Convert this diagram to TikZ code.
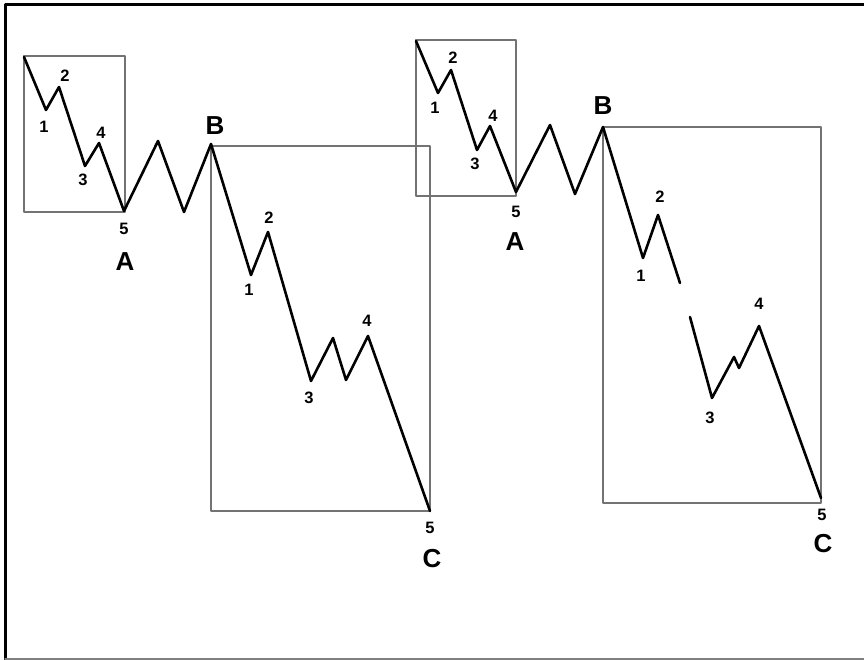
\documentclass[tikz,border=0pt]{standalone}
\usepackage{fontspec}
\setmainfont{Liberation Sans}
\definecolor{boxgray}{gray}{0.45}
\tikzset{
  wave/.style={line width=2.6pt,black},
  cell/.style={line width=1.1pt,boxgray},
  num/.style={font=\fontsize{16.5}{16.5}\selectfont\bfseries,inner sep=0pt},
  big/.style={font=\fontsize{26}{26}\selectfont\bfseries,inner sep=0pt}
}

\begin{document}
\begin{tikzpicture}[line cap=round,line join=round,x=1pt,y=-1pt]
			\useasboundingbox (0,0) rectangle (864,660);
			% frame
			\draw [line width=3.5pt] (5.5,660)-- (5.5,4.5)-- (864,4.5);
			\draw [line width=1.5pt,color=gray] (5,659)-- (864,659);
			% boxes
			\draw [cell] (24,56) rectangle (125,212);
			\draw [cell] (211,146) rectangle (430,511);
			\draw [cell] (416,40) rectangle (516,196);
			\draw [cell] (603,127) rectangle (821,503);
			% first wave
			\coordinate (s0) at (24,57);
			\coordinate (a1) at (46,110);
			\coordinate (a2) at (59,87);
			\coordinate (a3) at (85,166);
			\coordinate (a4) at (99,143);
			\coordinate (A) at (124,211);
			\coordinate (b1) at (158,141);
			\coordinate (b2) at (184,212);
			\coordinate (B) at (211,144);
			\coordinate (c1) at (251,275);
			\coordinate (c2) at (268,232);
			\coordinate (c3) at (311,381);
			\coordinate (c3a) at (333,338);
			\coordinate (c3b) at (346,380);
			\coordinate (c4) at (368,336);
			\coordinate (C) at (430,511);
			\draw [wave] (s0)-- (a1)-- (a2)-- (a3)-- (a4)-- (A)-- (b1)-- (b2)-- (B)-- (c1)-- (c2)-- (c3)-- (c3a)-- (c3b)-- (c4)-- (C);
			% second wave
			\coordinate (t0) at (416,41);
			\coordinate (d1) at (438,93);
			\coordinate (d2) at (451,70);
			\coordinate (d3) at (477,150);
			\coordinate (d4) at (490,126);
			\coordinate (AA) at (516,192);
			\coordinate (e1) at (550,125);
			\coordinate (e2) at (575,194);
			\coordinate (BB) at (603,127);
			\coordinate (f1) at (643,258);
			\coordinate (f2) at (658,215);
			\coordinate (fg) at (680,283);
			\coordinate (fh) at (690,317);
			\coordinate (f3) at (712,398);
			\coordinate (f3a) at (734,357);
			\coordinate (f3b) at (739,368);
			\coordinate (f4) at (759,326);
			\coordinate (CC) at (821,498);
			\draw [wave] (t0)-- (d1)-- (d2)-- (d3)-- (d4)-- (AA)-- (e1)-- (e2)-- (BB)-- (f1)-- (f2)-- (fg);
			\draw [wave] (fh)-- (f3)-- (f3a)-- (f3b)-- (f4)-- (CC);
			% labels, first wave
			\node [num] (n1) at (44,127) {1};
			\node [num] (n2) at (65,76) {2};
			\node [num] (n3) at (83,180) {3};
			\node [num] (n4) at (101,133) {4};
			\node [num] (n5) at (124,229) {5};
			\node [big] (nA) at (125,262) {A};
			\node [big] (nB) at (215,126) {B};
			\node [num] (m1) at (249,290) {1};
			\node [num] (m2) at (269,218) {2};
			\node [num] (m3) at (309,398) {3};
			\node [num] (m4) at (367,321) {4};
			\node [num] (m5) at (430,528) {5};
			\node [big] (nC) at (432,559) {C};
			% labels, second wave
			\node [num] (p1) at (435,108) {1};
			\node [num] (p2) at (453,58) {2};
			\node [num] (p3) at (475,164) {3};
			\node [num] (p4) at (493,116) {4};
			\node [num] (p5) at (516,212) {5};
			\node [big] (pA) at (515,242) {A};
			\node [big] (pB) at (603,106) {B};
			\node [num] (q1) at (641,276) {1};
			\node [num] (q2) at (660,197) {2};
			\node [num] (q3) at (710,418) {3};
			\node [num] (q4) at (759,304) {4};
			\node [num] (q5) at (822,515) {5};
			\node [big] (pC) at (823,544) {C};
		\end{tikzpicture}
\end{document}
